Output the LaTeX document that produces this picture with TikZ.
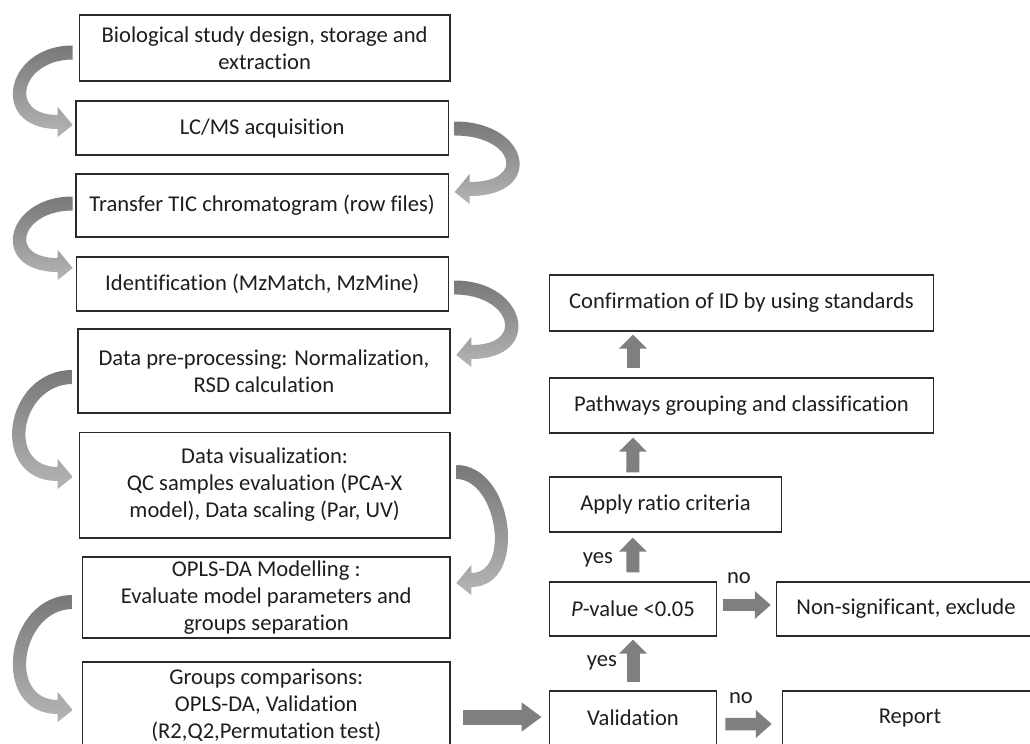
\documentclass[tikz,border=0pt]{standalone}
\usepackage{fontspec}
\setmainfont{Carlito}[Ligatures={NoCommon,NoContextual}]
\usetikzlibrary{arrows.meta,calc}
\definecolor{arrowgray}{HTML}{7F7F7F}
\definecolor{curvedark}{HTML}{787878}
\definecolor{curvelight}{HTML}{B5B5B5}
\definecolor{boxline}{HTML}{2A2A2A}
\definecolor{txtcol}{HTML}{1E1E1E}
\newcommand{\leftbend}[3]{%
  \shade[top color=curvedark, bottom color=curvelight]
    ($(#1)+(0,-7)$) .. controls +(-#3-9,0) and +(-#3-9,0) .. ($(#2)+(-15,4)$)
    -- ($(#2)+(-15,12)$) -- (#2) -- ($(#2)+(-15,-18)$) -- ($(#2)+(-15,-10)$)
    .. controls +(-#3+9,0) and +(-#3+9,0) .. ($(#1)+(0,7)$) -- cycle;}
\newcommand{\rightbend}[3]{%
  \shade[top color=curvedark, bottom color=curvelight]
    ($(#1)+(0,-7)$) .. controls +(#3+9,0) and +(#3+9,0) .. ($(#2)+(15,4)$)
    -- ($(#2)+(15,12)$) -- (#2) -- ($(#2)+(15,-18)$) -- ($(#2)+(15,-10)$)
    .. controls +(#3-9,0) and +(#3-9,0) .. ($(#1)+(0,7)$) -- cycle;}
\begin{document}
\begin{tikzpicture}[x=1bp,y=-1bp,
  box/.style={draw=boxline, line width=1.4bp, fill=white, align=center, inner sep=0pt,
              text=txtcol, font=\fontsize{22.6bp}{27bp}\selectfont},
  plain/.style={text=txtcol, inner sep=0pt, font=\fontsize{22.6bp}{27bp}\selectfont},
  vblock/.style={draw=arrowgray, line width=13bp, -{Triangle[width=27bp,length=14bp]}},
  hblock/.style={draw=arrowgray, line width=12.5bp, -{Triangle[width=27bp,length=16bp]}},
  bigblock/.style={draw=arrowgray, line width=15bp, -{Triangle[width=28bp,length=20bp]}}]
\path[use as bounding box, fill=white] (0,0) rectangle (1030,744);
\clip (0,0) rectangle (1030,744);

% left column
\node[box, minimum width=371.7, minimum height=66] (b1) at (264.65,48) {Biological study design, storage and\\extraction};
\node[box, minimum width=373.5, minimum height=54] (b2) at (262.15,128) {LC/MS acquisition};
\node[box, minimum width=373.5, minimum height=63] (b3) at (262.15,205.5) {Transfer TIC chromatogram (row files)};
\node[box, minimum width=373.2, minimum height=54] (b4) at (262.3,284) {Identification (MzMatch, MzMine)};
\node[box, minimum width=373.1, minimum height=84] (b5) at (263.95,371) {Data pre-processing: Normalization,\\RSD calculation};
\node[box, minimum width=371.7, minimum height=106] (b6) at (264.65,485) {Data visualization:\\QC samples evaluation (PCA-X\\model), Data scaling (Par, UV)};
\node[box, minimum width=368.4, minimum height=81] (b7) at (266.3,597.5) {OPLS-DA Modelling :\\Evaluate model parameters and\\groups separation};
\node[box, minimum width=368.4, minimum height=86] (b8) at (266.3,705) {Groups comparisons:\\OPLS-DA, Validation\\(R2,Q2,Permutation test)};

% right column
\node[box, minimum width=385, minimum height=56] (r1) at (741.5,303) {Confirmation of ID by using standards};
\node[box, minimum width=385, minimum height=55] (r2) at (741.5,405.5) {Pathways grouping and classification};
\node[box, minimum width=233, minimum height=55] (r3) at (665.5,504.5) {Apply ratio criteria};
\node[box, minimum width=168, minimum height=54] (r4) at (633,609) {\textit{P}-value <0.05};
\node[box, minimum width=264, minimum height=54] (r5) at (908,609) {};
\node[plain] (r5t) at (906,609) {Non-significant, exclude};
\node[box, minimum width=168, minimum height=54] (r6) at (633,718) {Validation};
\node[box, minimum width=258, minimum height=55] (r7) at (911,718.5) {};
\node[plain] (r7t) at (910,718) {Report};

% curved connectors
\coordinate (l1s) at ($(b1.west)+(-6.1,4.5)$);
\coordinate (l1t) at ($(b2.west)+(-2.7,-3)$);
\coordinate (l2s) at ($(b3.west)+(-2.7,-2)$);
\coordinate (l2t) at ($(b4.west)+(-3,-16)$);
\coordinate (l3s) at ($(b5.west)+(-4.7,6)$);
\coordinate (l3t) at ($(b6.west)+(-6.1,-8)$);
\coordinate (l4s) at ($(b7.west)+(-9.4,4.5)$);
\coordinate (l4t) at ($(b8.west)+(-9.4,5)$);
\coordinate (r1s) at ($(b2.east)+(5.7,0.5)$);
\coordinate (r1t) at ($(b3.east)+(5.7,-13.5)$);
\coordinate (r2s) at ($(b4.east)+(5.7,3.5)$);
\coordinate (r2t) at ($(b5.east)+(5.8,-16)$);
\coordinate (r3s) at ($(b6.east)+(5.8,-13)$);
\coordinate (r3t) at ($(b7.east)+(5.8,-14.5)$);
\leftbend{l1s}{l1t}{60}
\leftbend{l2s}{l2t}{60}
\leftbend{l3s}{l3t}{61}
\leftbend{l4s}{l4t}{60}
\rightbend{r1s}{r1t}{67}
\rightbend{r2s}{r2t}{64}
\rightbend{r3s}{r3t}{49}

% block arrows
\draw[vblock] ($(r2.north west)+(84,-9)$) -- ($(r1.south west)+(84,3)$);
\draw[vblock] ($(r3.north west)+(84,-4)$) -- ($(r2.south west)+(84,4)$);
\draw[vblock] ($(r4.north)+(0,-9)$) -- ($(r3.south west)+(84,5)$);
\draw[vblock] ($(r6.north)+(0,-8)$) -- ($(r4.south)+(0,3)$);
\draw[hblock] ($(r4.east)+(6,-4)$) -- ($(r5.west)+(-5,-4)$);
\draw[hblock] ($(r6.east)+(8,6)$) -- ($(r7.west)+(-10,5.5)$);
\draw[bigblock] ($(b8.east)+(12.5,12)$) -- ($(r6.west)+(-7,-1)$);

% labels
\node[plain] (yes1) at (598,560) {yes};
\node[plain] (yes2) at (602,663) {yes};
\node[plain] (no1) at (739,578) {no};
\node[plain] (no2) at (741,698) {no};
\end{tikzpicture}
\end{document}
